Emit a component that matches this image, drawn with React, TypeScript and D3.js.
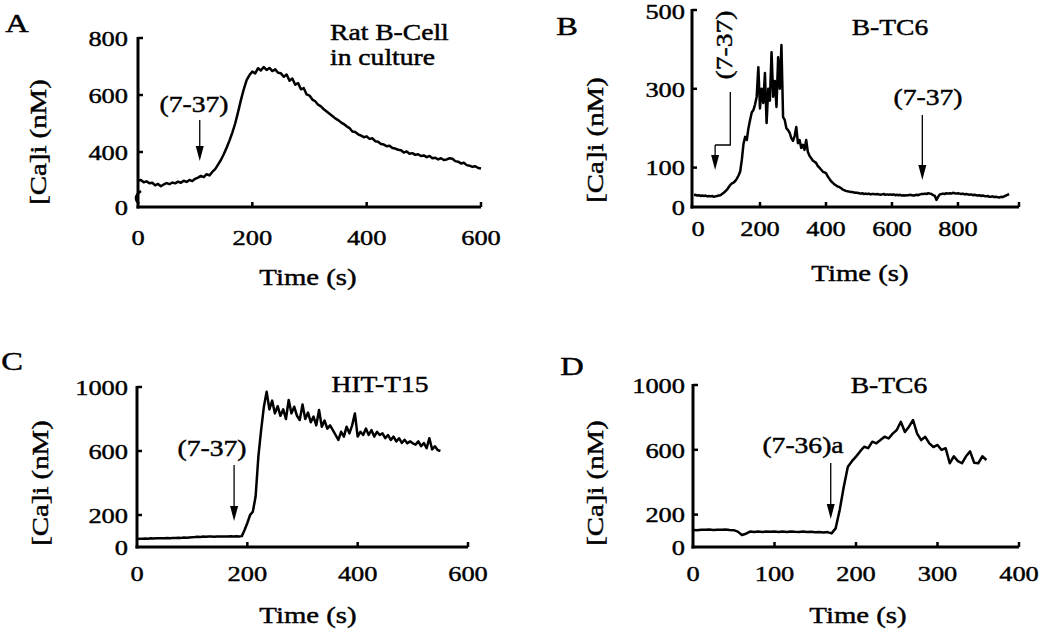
import React from 'react';
import * as d3 from 'd3';

// sampling interval of the traces (s)
const STEP = 5;

// Panel A: Rat B-Cell in culture, [Ca]i (nM) every 5 s from 0 to 600 s
const ratBCellValues = [
  300, 302, 294, 297, 290, 292, 283, 288, 280, 286,
  291, 287, 293, 290, 296, 292, 299, 295, 302, 298,
  306, 310, 316, 312, 322, 318, 330, 340, 356, 372,
  392, 415, 440, 468, 500, 540, 582, 620, 652, 670,
  682, 676, 694, 686, 698, 688, 695, 684, 690, 678,
  676, 664, 672, 650, 658, 636, 642, 620, 624, 602,
  598, 584, 578, 566, 560, 550, 542, 534, 526, 518,
  512, 504, 498, 490, 484, 472, 470, 462, 458, 452,
  455, 446, 448, 438, 436, 428, 426, 420, 422, 414,
  412, 408, 406, 398, 402, 394, 396, 390, 392, 386,
  388, 382, 386, 378, 380, 374, 378, 372, 374, 378,
  376, 368, 366, 360, 362, 354, 352, 348, 350, 344,
  342,
];

// Panel B: B-TC6, every 5 s from 0 to 955 s
const btc6Values = [
  30, 31, 29, 30, 28, 29, 28, 29, 27, 28,
  27, 28, 26, 27, 28, 29, 30, 33, 36, 40,
  44, 50, 56, 60, 62, 66, 72, 80, 90, 120,
  160, 178, 170, 200, 221, 240, 246, 260, 280, 355,
  250, 300, 264, 340, 213, 300, 270, 393, 280, 320,
  254, 380, 300, 411, 228, 221, 200, 195, 188, 175,
  168, 180, 203, 162, 170, 150, 158, 145, 170, 140,
  130, 124, 118, 115, 112, 104, 100, 95, 90, 88,
  86, 78, 72, 66, 62, 58, 55, 52, 51, 48,
  45, 43, 41, 40, 39, 38, 38, 37, 36, 36,
  35, 34, 35, 33, 34, 33, 34, 32, 33, 33,
  32, 33, 32, 31, 32, 33, 31, 32, 31, 32,
  31, 32, 30, 31, 30, 31, 29, 30, 29, 30,
  30, 31, 30, 29, 30, 31, 30, 32, 33, 33,
  34, 33, 35, 34, 33, 30, 28, 18, 26, 32,
  33, 34, 33, 35, 34, 35, 34, 36, 35, 34,
  35, 34, 33, 34, 32, 33, 32, 31, 32, 30,
  31, 30, 29, 30, 28, 29, 28, 27, 28, 26,
  26, 27, 25, 26, 25, 24, 26, 25, 27, 29,
  31, 33,
];

// Panel C: HIT-T15, every 5 s from 0 to 550 s
const hitT15Values = [
  50, 52, 51, 53, 52, 54, 53, 55, 54, 55,
  54, 56, 55, 57, 56, 58, 57, 59, 58, 60,
  61, 62, 64, 63, 65, 64, 66, 65, 64, 65,
  66, 65, 66, 65, 67, 66, 67, 66, 68, 106,
  150, 200, 221, 315, 565, 731, 877, 971, 860, 915,
  835, 880, 820, 860, 800, 919, 835, 877, 820, 794,
  890, 800, 840, 780, 815, 760, 856, 752, 790, 740,
  760, 731, 700, 669, 720, 690, 752, 710, 760, 835,
  690, 720, 700, 740, 700, 731, 690, 720, 700, 710,
  680, 700, 669, 690, 660, 680, 650, 670, 648, 660,
  648, 640, 660, 630, 650, 617, 680, 610, 630, 606,
  600,
];

// Panel D: B-TC6 with (7-36)a, every 5 s from 0 to 360 s
const btc6AmideValues = [
  105, 104, 107, 106, 108, 105, 107, 106, 108, 105,
  104, 95, 74, 82, 95, 92, 96, 93, 95, 94,
  96, 93, 95, 92, 96, 94, 93, 95, 92, 94,
  91, 93, 90, 92, 84, 115, 228, 372, 496, 530,
  558, 590, 619, 610, 650, 640, 660, 681, 670, 700,
  722, 773, 710, 743, 784, 700, 660, 680, 640, 617,
  630, 599, 610, 517, 560, 530, 517, 560, 590, 520,
  517, 560, 537,
];

const xTicksA = [0, 200, 400, 600];
const yTicksA = [400, 600, 800];
const xTicksB = [0, 200, 400, 600, 800];
const yTicksB = [0, 100, 300, 500];
const xTicksC = [0, 200, 400, 600];
const yTicksC = [0, 200, 600, 1000];
const xTicksD = [0, 100, 200, 300, 400];
const yTicksD = [0, 200, 600, 1000];

const FONT = "'Liberation Serif', 'Times New Roman', Times, serif";
const SX = 1.2;

function Txt({ x, y, size = 22, anchor = 'middle', rot = 0, sx = SX, dy, children }: any) {
  return (
    <text
      transform={`translate(${x},${y}) rotate(${rot}) scale(${sx},1)`}
      textAnchor={anchor}
      dy={dy}
      fontFamily={FONT}
      fontSize={size}
      fill="#000"
      stroke="#000"
      strokeWidth={0.45}
    >
      {children}
    </text>
  );
}

function Arrow({ x, y1, y2 }: any) {
  const head = 15;
  return (
    <g>
      <line x1={x} x2={x} y1={y1} y2={y2 - head + 2} stroke="#000" strokeWidth={1.3} />
      <path d={`M${x - 4},${y2 - head} L${x + 4},${y2 - head} L${x},${y2} Z`} fill="#000" />
    </g>
  );
}

function Panel(p: any) {
  const x = d3.scaleLinear().domain(p.xDomain).range(p.xRange);
  const y = d3.scaleLinear().domain(p.yDomain).range(p.yRange);
  const pts: [number, number][] = p.values.map((v: number, i: number) => [i * STEP, v]);
  const line = d3.line<[number, number]>().x(d => x(d[0])).y(d => y(d[1]));
  const axisY = p.axisY ?? y(0);
  const axisX = p.axisX ?? x(0);
  const yTop = y(p.yDomain[1]);
  const xEnd = x(p.xDomain[1]);
  const xTickList = [...p.xTicks, ...(p.endTick ? [p.xDomain[1]] : [])];
  return (
    <g>
      {/* trace */}
      <path d={line(pts) || ''} fill="none" stroke="#000" strokeWidth={2.5} strokeLinejoin="round" />
      {/* axes */}
      <line x1={axisX} x2={axisX} y1={yTop - 1} y2={axisY + 1.5} stroke="#000" strokeWidth={3} />
      <line x1={axisX - 1.5} x2={xEnd} y1={axisY} y2={axisY} stroke="#000" strokeWidth={3} />
      {p.yTicks.filter((t: number) => t !== 0).map((t: number) => (
        <line key={'yt' + t} x1={axisX} x2={axisX + 5} y1={y(t)} y2={y(t)} stroke="#000" strokeWidth={2.5} />
      ))}
      {xTickList.filter((t: number) => t !== 0).map((t: number) => (
        <line key={'xt' + t} x1={x(t)} x2={x(t)} y1={axisY} y2={axisY - 5} stroke="#000" strokeWidth={2.5} />
      ))}
      {/* tick labels */}
      {p.yTicks.map((t: number) => (
        <Txt key={'yl' + t} x={axisX - p.yGap} y={t === 0 ? axisY : y(t) + (p.topNudge && t === p.yDomain[1] ? p.topNudge : 0)} anchor="end" dy="0.35em">{t}</Txt>
      ))}
      {p.zeroLabel && (
        <Txt x={axisX - p.yGap} y={axisY} anchor="end" dy="0.35em">0</Txt>
      )}
      {p.xTicks.map((t: number) => (
        <Txt key={'xl' + t} x={x(t) + (t === 0 ? p.zeroShift || 0 : 0)} y={axisY + p.xLabelDy} dy="0.35em">{t}</Txt>
      ))}
      {/* axis titles */}
      <Txt x={p.xTitle[0]} y={p.xTitle[1]} size={24} dy="0.35em">Time (s)</Txt>
      <Txt x={p.yTitle[0]} y={p.yTitle[1]} size={24} rot={-90} dy="0.35em">[Ca]i (nM)</Txt>
      {/* panel letter */}
      <Txt x={p.letterPos[0]} y={p.letterPos[1]} size={25} sx={1.3}>{p.letter}</Txt>
      {/* cell label */}
      {p.titleLines.map((s: string, i: number) => (
        <Txt key={'tt' + i} x={p.titlePos[0]} y={p.titlePos[1] + i * 25} size={23} anchor={p.titleAnchor}>{s}</Txt>
      ))}
      {p.children && p.children(x, y)}
    </g>
  );
}

export default function App() {
  return (
    <svg
      width={1050}
      height={632}
      viewBox="0 0 1050 632"
      style={{ position: 'absolute', left: 0, top: 0, background: '#fff' }}
    >
      <rect x={0} y={0} width={1050} height={632} fill="#fff" />

      {/* Panel A */}
      <Panel
        letter="A" letterPos={[17, 32]}
        titleLines={['Rat B-Cell', 'in culture']} titlePos={[330, 40]} titleAnchor="start"
        xDomain={[0, 600]} xRange={[138, 481]}
        yDomain={[200, 800]} yRange={[209, 38]} axisY={207}
        values={ratBCellValues}
        xTicks={xTicksA} yTicks={yTicksA} zeroLabel
        yGap={10} xLabelDy={30}
        xTitle={[308, 277]} yTitle={[38, 142]}
      >
        {(x: any) => (
          <g>
            <path d="M141,191 Q132,197 139,204" fill="none" stroke="#000" strokeWidth={2.5} />
            <Txt x={194} y={112} size={23}>(7-37)</Txt>
            <Arrow x={x(108)} y1={120} y2={161} />
          </g>
        )}
      </Panel>

      {/* Panel B */}
      <Panel
        letter="B" letterPos={[567, 35]}
        titleLines={['B-TC6']} titlePos={[890, 35]} titleAnchor="middle"
        xDomain={[0, 985]} xRange={[694, 1019]} axisX={692}
        yDomain={[0, 500]} yRange={[207, 10]} topNudge={1}
        values={btc6Values}
        xTicks={xTicksB} yTicks={yTicksB} endTick
        yGap={7} xLabelDy={21} zeroShift={4}
        xTitle={[860, 273]} yTitle={[595, 140]}
      >
        {(x: any) => (
          <g>
            <Txt x={724} y={45} size={23} rot={-90} dy="0.35em">(7-37)</Txt>
            <path d={`M${x(110)},92 L${x(110)},145 L${x(64)},145`} fill="none" stroke="#000" strokeWidth={1.3} />
            <Arrow x={x(64)} y1={145} y2={170} />
            <Txt x={928} y={105} size={23}>(7-37)</Txt>
            <Arrow x={x(692)} y1={115} y2={180} />
          </g>
        )}
      </Panel>

      {/* Panel C */}
      <Panel
        letter="C" letterPos={[12, 370]}
        titleLines={['HIT-T15']} titlePos={[380, 392]} titleAnchor="middle"
        xDomain={[0, 600]} xRange={[137, 468]}
        yDomain={[0, 1000]} yRange={[547, 387]}
        values={hitT15Values}
        xTicks={xTicksC} yTicks={yTicksC}
        yGap={9} xLabelDy={26}
        xTitle={[308, 615]} yTitle={[40, 483]}
      >
        {(x: any) => (
          <g>
            <Txt x={212} y={456} size={23}>(7-37)</Txt>
            <Arrow x={x(176)} y1={465} y2={521} />
          </g>
        )}
      </Panel>

      {/* Panel D */}
      <Panel
        letter="D" letterPos={[572, 375]}
        titleLines={['B-TC6']} titlePos={[889, 393]} titleAnchor="middle"
        xDomain={[0, 400]} xRange={[693, 1019]}
        yDomain={[0, 1000]} yRange={[547, 385]}
        values={btc6AmideValues}
        xTicks={xTicksD} yTicks={yTicksD}
        yGap={8} xLabelDy={26}
        xTitle={[858, 615]} yTitle={[595, 483]}
      >
        {(x: any) => (
          <g>
            <Txt x={803} y={453} size={23}>(7-36)a</Txt>
            <Arrow x={x(169)} y1={463} y2={519} />
          </g>
        )}
      </Panel>
    </svg>
  );
}
